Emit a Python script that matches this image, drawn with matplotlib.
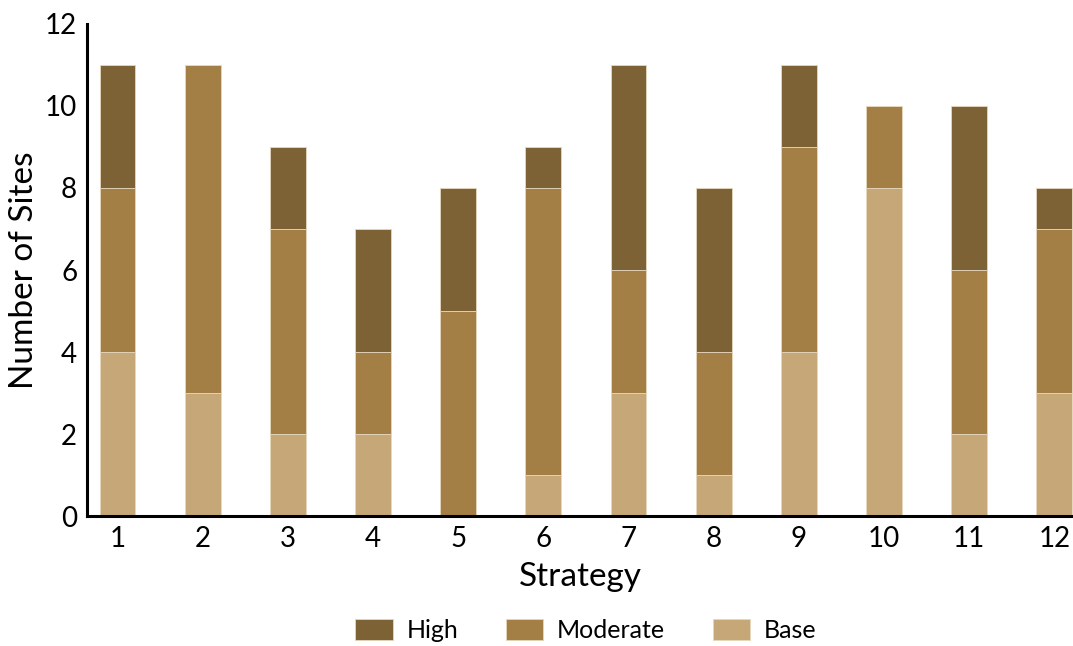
import numpy as np
import matplotlib.pyplot as plt

plt.rcParams['font.family'] = ['Lato', 'DejaVu Sans']

strategies = [str(i) for i in range(1, 13)]
base = [4, 3, 2, 2, 0, 1, 3, 1, 4, 8, 2, 3]
moderate = [4, 8, 5, 2, 5, 7, 3, 3, 5, 2, 4, 4]
high = [3, 0, 2, 3, 3, 1, 5, 4, 2, 0, 4, 1]

c_high = '#7d6235'
c_mod = '#a37f46'
c_base = '#c6a878'

x = np.arange(1, 13)
base_a = np.array(base)
mod_a = np.array(moderate)
high_a = np.array(high)

fig = plt.figure(figsize=(10.73, 6.46), dpi=100)
ax = fig.add_axes([0.081, 0.201, 0.919, 0.762])

w = 0.42
ax.bar(x, base_a, w, color=c_base, edgecolor='#e6d7bd', linewidth=0.6, label='Base')
ax.bar(x, mod_a, w, bottom=base_a, color=c_mod, edgecolor='#e6d7bd', linewidth=0.6, label='Moderate')
ax.bar(x, high_a, w, bottom=base_a + mod_a, color=c_high, edgecolor='#e6d7bd', linewidth=0.6, label='High')

ax.set_xlim(0.64, 12.22)
ax.set_ylim(0, 12)
ax.set_xticks(x)
ax.set_xticklabels(strategies)
ax.set_yticks(range(0, 13, 2))
ax.tick_params(length=0, labelsize=20, pad=7)
ax.set_xlabel('Strategy', fontsize=24, labelpad=7)
ax.set_ylabel('Number of Sites', fontsize=24, labelpad=4)

for s in ['top', 'right']:
    ax.spines[s].set_visible(False)
for s in ['left', 'bottom']:
    ax.spines[s].set_linewidth(2.2)

h, l = ax.get_legend_handles_labels()
fig.legend(h[::-1], l[::-1], loc='center', bbox_to_anchor=(0.546, 0.024), ncol=3,
           frameon=False, fontsize=18, handlelength=1.5, handleheight=0.9,
           columnspacing=1.9, handletextpad=0.55)

fig.savefig('out.png', dpi=100)
